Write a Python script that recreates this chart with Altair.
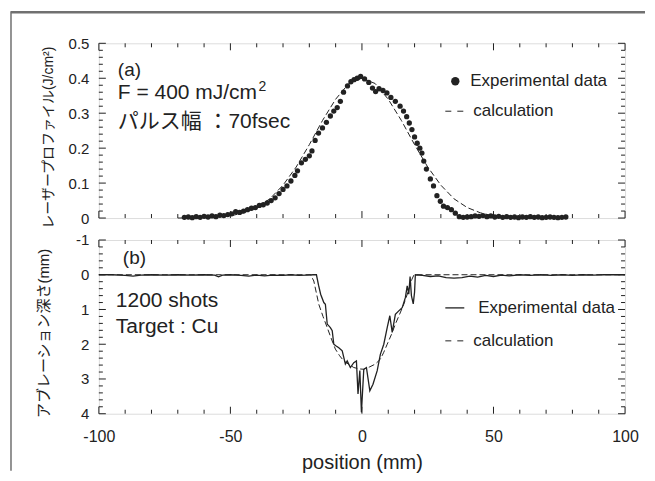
import altair as alt
import pandas as pd

# ---------------- data ----------------
exp_a_x = [-67.5, -66, -64.5, -63, -61.5, -60, -58.5, -57, -55.5, -54, -52.5, -51, -49.5, -48,
           -46.5, -45, -43.5, -42, -40.5, -39, -37.5, -36, -34.5, -33, -31.5, -30, -28.5, -27,
           -25.5, -24.5, -23, -21.5, -20, -19, -17.8, -16.5, -15, -13.5, -12, -10.7, -9.4, -8.2,
           -7, -5.5, -4.2, -3, -1.8, -0.5, 1, 2.6, 4, 5.2, 6.5, 8, 9.5, 11, 12.7, 14.5, 15.8, 17,
           18, 19, 20, 21, 22, 22.8, 23.5, 24.5, 26, 27.2, 28.5, 29.8, 31, 32.5, 34, 35.5, 37,
           38.5, 40, 41.5, 43, 44.5, 46, 47.5, 49, 50.5, 52, 53.5, 55, 56.5, 58, 59.5, 61, 62.5,
           64, 65.5, 67, 68.5, 70, 71.5, 73, 74.5, 76, 77.5]
exp_a_y = [0.002, 0.003, 0.001, 0.004, 0.002, 0.005, 0.003, 0.006, 0.004, 0.008, 0.007, 0.010, 0.012, 0.018,
           0.016, 0.020, 0.024, 0.028, 0.030, 0.036, 0.038, 0.043, 0.050, 0.058, 0.070, 0.082, 0.092, 0.106,
           0.122, 0.135, 0.158, 0.168, 0.178, 0.192, 0.222, 0.243, 0.258, 0.274, 0.292, 0.306, 0.316, 0.334,
           0.360, 0.378, 0.390, 0.396, 0.400, 0.405, 0.398, 0.388, 0.372, 0.362, 0.370, 0.365, 0.358, 0.345, 0.334, 0.320, 0.306, 0.290,
           0.272, 0.253, 0.232, 0.214, 0.200, 0.186, 0.163, 0.140, 0.112, 0.092, 0.064, 0.048, 0.034, 0.030, 0.024, 0.014, 0.004,
           0.002, 0.003, 0.004, 0.006, 0.005, 0.007, 0.004, 0.006, 0.003, 0.005, 0.002, 0.004, 0.002, 0.003, 0.001, 0.003, 0.002,
           0.004, 0.002, 0.003, 0.001, 0.002, 0.003, 0.002, 0.001, 0.002, 0.003]

calc_a_x = [-70, -60, -55, -50, -45, -40, -35, -30, -25, -20, -15, -10, -5, 0,
            5, 10, 15, 20, 25, 30, 35, 40, 45, 50, 55, 60, 70, 78]
calc_a_y = [0.0, 0.001, 0.003, 0.006, 0.015, 0.030, 0.055, 0.094, 0.146, 0.210, 0.279, 0.340, 0.385, 0.400,
            0.385, 0.340, 0.279, 0.210, 0.146, 0.094, 0.055, 0.030, 0.015, 0.006, 0.003, 0.001, 0.0, 0.0]

exp_b_x = [-100, -95, -90, -87, -84, -80, -75, -70, -65, -60, -56, -54.5, -53, -50, -46, -43, -40, -37,
           -34, -30, -27, -24, -21, -18.5, -17.3, -16.5, -15.7, -14.5, -13.9, -13.2, -12.0, -11.3,
           -10.7, -9.8, -8.8, -7.5, -6.3, -5.6, -4.4, -3.1, -2.1, -1.5, -0.8, -0.2, 0.7, 1.7, 3.0,
           4.2, 5.8, 7.0, 8.3, 9.6, 10.6, 11.5, 12.7, 14.0, 15.3, 16.5, 17.2, 17.8, 18.3, 18.8,
           19.5, 20.0, 20.3, 23, 26, 29, 32, 35, 38, 41, 44, 47, 50, 53, 56, 60, 64, 68, 72, 76,
           80, 84, 88, 92, 96, 100]
exp_b_y = [0, 0, 0.02, 0.04, 0.01, 0, 0.01, 0, 0.01, 0, 0.01, 0.06, 0.01, 0, 0.02, 0.04, 0.01, 0.03,
           0.01, 0.02, 0, 0.02, 0.01, 0, 0, 0.30, 0.56, 0.80, 0.85, 1.42, 1.52, 1.61,
           2.00, 2.05, 2.10, 2.19, 2.57, 2.48, 2.67, 2.53, 2.48, 3.43, 2.76, 3.96, 2.72, 2.67, 3.34,
           3.15, 2.76, 2.29, 2.00, 1.52, 1.18, 1.66, 1.14, 1.04, 0.95, 0.66, 0.32, 0.56, 0.05, 0.60,
           0.84, 0.50, 0, 0.02, 0.05, 0.03, 0.08, 0.10, 0.08, 0.04, 0.07, 0.02, 0.05, 0.01, 0.03, 0, 0.02, 0, 0.02, 0,
           0.02, 0, 0.01, 0, 0, 0]

calc_b_x = [-100, -19.5, -18.3, -16.4, -14.8, -13.2, -11.6, -10.1, -8.5, -6.9, -5.0, -3.1, -1.0, 0.7,
            3.0, 5.1, 7.0, 8.3, 9.6, 11.2, 12.7, 14.3, 15.9, 17.5, 19.0, 19.8, 100]
calc_b_y = [0, 0, 0.18, 0.85, 1.20, 1.52, 1.85, 2.14, 2.33, 2.48, 2.58, 2.67, 2.71, 2.72,
            2.65, 2.57, 2.43, 2.23, 2.00, 1.72, 1.42, 1.14, 0.85, 0.50, 0.13, 0, 0]

x_major = [-100, -50, 0, 50, 100]
x_minor = [-90, -80, -70, -60, -40, -30, -20, -10, 10, 20, 30, 40, 60, 70, 80, 90]
ya_major = [0, 0.1, 0.2, 0.3, 0.4, 0.5]
ya_minor = [0.02, 0.04, 0.06, 0.08, 0.12, 0.14, 0.16, 0.18, 0.22, 0.24, 0.26, 0.28,
            0.32, 0.34, 0.36, 0.38, 0.42, 0.44, 0.46, 0.48]
yb_major = [-1, 0, 1, 2, 3, 4]
yb_minor = [-0.8, -0.6, -0.4, -0.2, 0.2, 0.4, 0.6, 0.8, 1.2, 1.4, 1.6, 1.8,
            2.2, 2.4, 2.6, 2.8, 3.2, 3.4, 3.6, 3.8]

W, HA, HB = 527, 175, 174
FONT = "Liberation Sans, Noto Sans CJK JP"
INK = "#222222"
FRAME = "#707070"
MAJ, MIN = 7, 4

x_scale = alt.Scale(domain=[-100, 100], nice=False, zero=False)
ya_scale = alt.Scale(domain=[0, 0.5], nice=False)
yb_scale = alt.Scale(domain=[-1, 4], nice=False, zero=False, reverse=True)

dummy = pd.DataFrame({"d": [0]})


def txt(text, x, y, size, align="left", baseline="alphabetic"):
    return alt.Chart(dummy).mark_text(
        text=text, fontSize=size, align=align, baseline=baseline, font=FONT, color=INK
    ).encode(x=alt.value(x), y=alt.value(y))


def xticks(xaxis, h):
    layers = []
    for vals, ln in ((x_major, MAJ), (x_minor, MIN)):
        df = pd.DataFrame({"t": vals})
        base = alt.Chart(df).mark_rule(color=INK, strokeWidth=1)
        xe = alt.X("t:Q", scale=x_scale, axis=xaxis)
        layers.append(base.encode(x=xe, y=alt.value(0), y2=alt.value(ln)))
        layers.append(base.encode(x=xe, y=alt.value(h), y2=alt.value(h - ln)))
    return layers


def yticks(yscale, yaxis, major, minor):
    layers = []
    for vals, ln in ((major, MAJ), (minor, MIN)):
        df = pd.DataFrame({"t": vals})
        base = alt.Chart(df).mark_rule(color=INK, strokeWidth=1)
        ye = alt.Y("t:Q", scale=yscale, axis=yaxis)
        layers.append(base.encode(y=ye, x=alt.value(0), x2=alt.value(ln)))
        layers.append(base.encode(y=ye, x=alt.value(W), x2=alt.value(W - ln)))
    return layers


ya_axis = alt.Axis(values=ya_major, labelExpr="toString(datum.value)", ticks=False, domain=False,
                   grid=False, labelPadding=10, labelFontSize=15, labelColor=INK, labelFont=FONT,
                   title="レーザープロファイル(J/cm²)", titleFont=FONT, titleFontSize=14,
                   titleFontWeight="normal", titleColor=INK, titleAngle=270, titleX=-50, titleY=94,
                   titleAlign="center", titleBaseline="middle")

df_exp_a = pd.DataFrame({"x": exp_a_x, "y": exp_a_y})
df_calc_a = pd.DataFrame({"x": calc_a_x, "y": calc_a_y})

dots_a = alt.Chart(df_exp_a).mark_circle(size=28, color=INK, opacity=1).encode(
    x=alt.X("x:Q", scale=x_scale, axis=None),
    y=alt.Y("y:Q", scale=ya_scale, axis=ya_axis),
)
calc_a = alt.Chart(df_calc_a).mark_line(color=INK, strokeWidth=1, strokeDash=[6, 3]).encode(
    x=alt.X("x:Q", scale=x_scale, axis=None),
    y=alt.Y("y:Q", scale=ya_scale, axis=ya_axis),
)

legend_a = [
    alt.Chart(dummy).mark_circle(size=70, color=INK, opacity=1).encode(x=alt.value(357), y=alt.value(38)),
    txt("Experimental data", 372, 38, 17, baseline="middle"),
    alt.Chart(dummy).mark_rule(color=INK, strokeWidth=1, strokeDash=[6, 6]).encode(
        x=alt.value(347), x2=alt.value(366), y=alt.value(68)),
    txt("calculation", 375, 68, 17, baseline="middle"),
]
notes_a = [
    txt("(a)", 19, 33, 19),
    txt("F = 400 mJ/cm", 19, 56, 21),
    txt("2", 160, 48, 14),
    txt("パルス幅 ：70fsec", 19, 85, 21),
]
# top border of the figure frame
frame_top = alt.Chart(dummy).mark_rule(color=FRAME, strokeWidth=2.5).encode(
    x=alt.value(-88), x2=alt.value(547), y=alt.value(-31))

panel_a = alt.layer(
    *xticks(None, HA), *yticks(ya_scale, ya_axis, ya_major, ya_minor),
    calc_a, dots_a, *legend_a, *notes_a, frame_top
).properties(width=W, height=HA)

x_axis = alt.Axis(values=x_major, labelExpr="toString(datum.value)", ticks=False, domain=False,
                  grid=False, labelPadding=15, labelFontSize=16, labelColor=INK, labelFont=FONT,
                  labelFlush=False,
                  title="position (mm)", titleFont=FONT, titleFontSize=20, titleFontWeight="normal",
                  titleColor=INK, titleX=W / 2, titleY=49, titleAlign="center", titleBaseline="middle")
yb_axis = alt.Axis(values=yb_major, labelExpr="toString(datum.value)", ticks=False, domain=False,
                   grid=False, labelPadding=10, labelFontSize=15, labelColor=INK, labelFont=FONT,
                   title="アブレーション深さ(mm)", titleFont=FONT, titleFontSize=15,
                   titleFontWeight="normal", titleColor=INK, titleAngle=270, titleX=-55, titleY=93,
                   titleAlign="center", titleBaseline="middle")

df_exp_b = pd.DataFrame({"x": exp_b_x, "y": exp_b_y})
df_calc_b = pd.DataFrame({"x": calc_b_x, "y": calc_b_y})

exp_b = alt.Chart(df_exp_b).mark_line(color=INK, strokeWidth=1.3).encode(
    x=alt.X("x:Q", scale=x_scale, axis=x_axis),
    y=alt.Y("y:Q", scale=yb_scale, axis=yb_axis),
)
calc_b = alt.Chart(df_calc_b).mark_line(color=INK, strokeWidth=1, strokeDash=[6, 3]).encode(
    x=alt.X("x:Q", scale=x_scale, axis=x_axis),
    y=alt.Y("y:Q", scale=yb_scale, axis=yb_axis),
)

legend_b = [
    alt.Chart(dummy).mark_rule(color=INK, strokeWidth=1.3).encode(
        x=alt.value(347), x2=alt.value(366), y=alt.value(68)),
    txt("Experimental data", 380, 68, 17, baseline="middle"),
    alt.Chart(dummy).mark_rule(color=INK, strokeWidth=1, strokeDash=[6, 6]).encode(
        x=alt.value(347), x2=alt.value(366), y=alt.value(101)),
    txt("calculation", 375, 101, 17, baseline="middle"),
]
notes_b = [
    txt("(b)", 24, 24, 19),
    txt("1200 shots", 17, 67, 21),
    txt("Target : Cu", 17, 93, 21),
]

# left border of the figure frame
frame_left = alt.Chart(dummy).mark_rule(color=FRAME, strokeWidth=1.5).encode(
    x=alt.value(-88), y=alt.value(-229), y2=alt.value(231))

panel_b = alt.layer(
    *xticks(x_axis, HB), *yticks(yb_scale, yb_axis, yb_major, yb_minor),
    calc_b, exp_b, *legend_b, *notes_b, frame_left
).properties(width=W, height=HB)

chart = alt.vconcat(panel_a, panel_b, spacing=22, bounds="flush").properties(
    padding={"left": 1, "top": 1, "right": 0, "bottom": 0}
).configure_view(stroke=INK, strokeWidth=1.2).configure(font=FONT)

chart.save("out.html", embed_options={"renderer": "svg", "actions": False})
